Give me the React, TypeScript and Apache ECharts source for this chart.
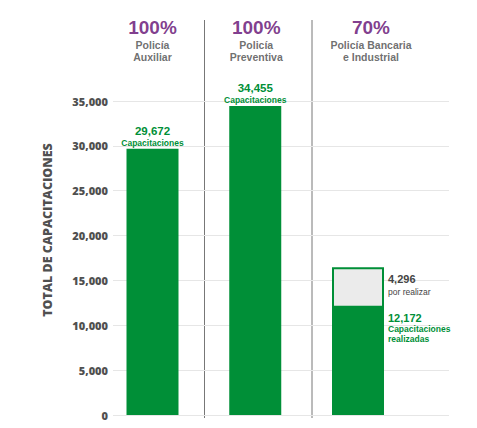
import React, { useEffect, useRef } from "react";
import * as echarts from "echarts";

const categories = ["Policía\nAuxiliar", "Policía\nPreventiva", "Policía Bancaria\ne Industrial"];
const percentages = ["100%", "100%", "70%"];
const completed = [29672, 34455, 12172];
const pending: (number | null)[] = [null, null, 4296];
const yMin = 0;
const yMax = 35000;
const yInterval = 5000;
const axisTitle = "TOTAL DE CAPACITACIONES";
const completedLabel = "Capacitaciones";
const completedLabelPartial = ["Capacitaciones", "realizadas"];
const pendingLabel = "por realizar";

const GREEN = "#008f37";
const PURPLE = "#5f0a70";
const GRAY = "#505050";
const FONT = "Open Sans";
const LFONT = "Liberation Sans";

const fmt = (v: number) => v.toLocaleString("en-US");

export default function App() {
  const ref = useRef<HTMLDivElement>(null);
  useEffect(() => {
    document.body.style.margin = "0";
    if (!ref.current) return;
    const chart = echarts.init(ref.current, null, { renderer: "svg" });
    const topOffsets = [0, 1, 13];
    chart.setOption({
      animation: false,
      backgroundColor: "#ffffff",
      grid: { left: 113, right: 28, top: 101, bottom: 13 },
      xAxis: {
        type: "value",
        min: -0.3844,
        max: 2.8856,
        show: false,
        splitLine: { show: false },
      },
      yAxis: {
        type: "value",
        min: yMin,
        max: yMax,
        interval: yInterval,
        axisLine: { show: false },
        axisTick: { show: false },
        axisLabel: {
          margin: 5,
          color: GRAY,
          fontFamily: FONT,
          fontWeight: 800,
          fontSize: 11,
          formatter: (v: number) => fmt(v),
        },
        splitLine: { lineStyle: { color: "#e6e6e6", width: 1 } },
      },
      graphic: [
        {
          type: "text",
          x: 47,
          y: 230,
          rotation: Math.PI / 2,
          style: {
            text: axisTitle,
            fill: GRAY,
            font: `800 12.5px "${FONT}"`,
            textAlign: "center",
            textVerticalAlign: "middle",
          },
        },
        { type: "line", shape: { x1: 204.5, y1: 20, x2: 204.5, y2: 418 }, style: { stroke: "#777777", lineWidth: 1 } },
        { type: "line", shape: { x1: 312, y1: 20, x2: 312, y2: 418 }, style: { stroke: "#777777", lineWidth: 1 } },
      ],
      series: [
        {
          name: "total",
          type: "bar",
          barWidth: 52,
          barGap: "-100%",
          itemStyle: { color: "#ebebeb", borderColor: GREEN, borderWidth: 2 },
          data: pending.map((v, i) => ({ value: [i, v == null ? "-" : completed[i] + v] })),
          label: {
            show: true,
            position: [56, 5],
            align: "left",
            formatter: (p: any) => `{v|${fmt(pending[p.dataIndex] as number)}}\n{c|${pendingLabel}}`,
            rich: {
              v: { fontFamily: LFONT, fontWeight: "bold", fontSize: 11, color: "#444444", lineHeight: 12.5 },
              c: { fontFamily: LFONT, fontSize: 8.5, color: "#444444", lineHeight: 14 },
            },
          },
        },
        {
          name: "realizadas",
          type: "bar",
          barWidth: 52,
          barGap: "-100%",
          itemStyle: { color: GREEN },
          data: completed.map((v, i) => ({
            value: [i, v],
            label:
              pending[i] == null
                ? {
                    show: true,
                    position: "top",
                    distance: 1,
                    formatter: `{v|${fmt(v)}}\n{c|${completedLabel}}`,
                  }
                : {
                    show: true,
                    position: [56, 6],
                    align: "left",
                    formatter: `{w|${fmt(v)}}\n{d|${completedLabelPartial[0]}}\n{d|${completedLabelPartial[1]}}`,
                  },
          })),
          label: {
            rich: {
              v: { fontFamily: LFONT, fontWeight: "bold", fontSize: 11.5, color: GREEN, lineHeight: 13, align: "center" },
              w: { fontFamily: LFONT, fontWeight: "bold", fontSize: 11, color: GREEN, lineHeight: 12.5, align: "left" },
              c: { fontFamily: LFONT, fontWeight: "bold", fontSize: 8.5, color: GREEN, lineHeight: 10, align: "center" },
              d: { fontFamily: LFONT, fontWeight: "bold", fontSize: 8.5, color: GREEN, lineHeight: 10, align: "left" },
            },
          },
        },
        {
          name: "headers",
          type: "scatter",
          symbolSize: 0,
          clip: false,
          silent: true,
          data: categories.map((c, i) => ({
            value: [i, yMax],
            label: {
              show: true,
              position: "top",
              distance: 5,
              offset: [topOffsets[i], -33],
              formatter: `{p|${percentages[i]}}\n{n|${c.split("\n").join("}\n{n|")}}`,
            },
          })),
          label: {
            rich: {
              p: { fontFamily: LFONT, fontWeight: "bold", fontSize: 19, color: PURPLE, lineHeight: 21.5, align: "center" },
              n: { fontFamily: LFONT, fontWeight: "bold", fontSize: 10.5, color: "#4a4a4a", lineHeight: 12.2, align: "center" },
            },
          },
        },
      ],
    });
    return () => chart.dispose();
  }, []);
  return <div ref={ref} style={{ width: 477, height: 428 }} />;
}
